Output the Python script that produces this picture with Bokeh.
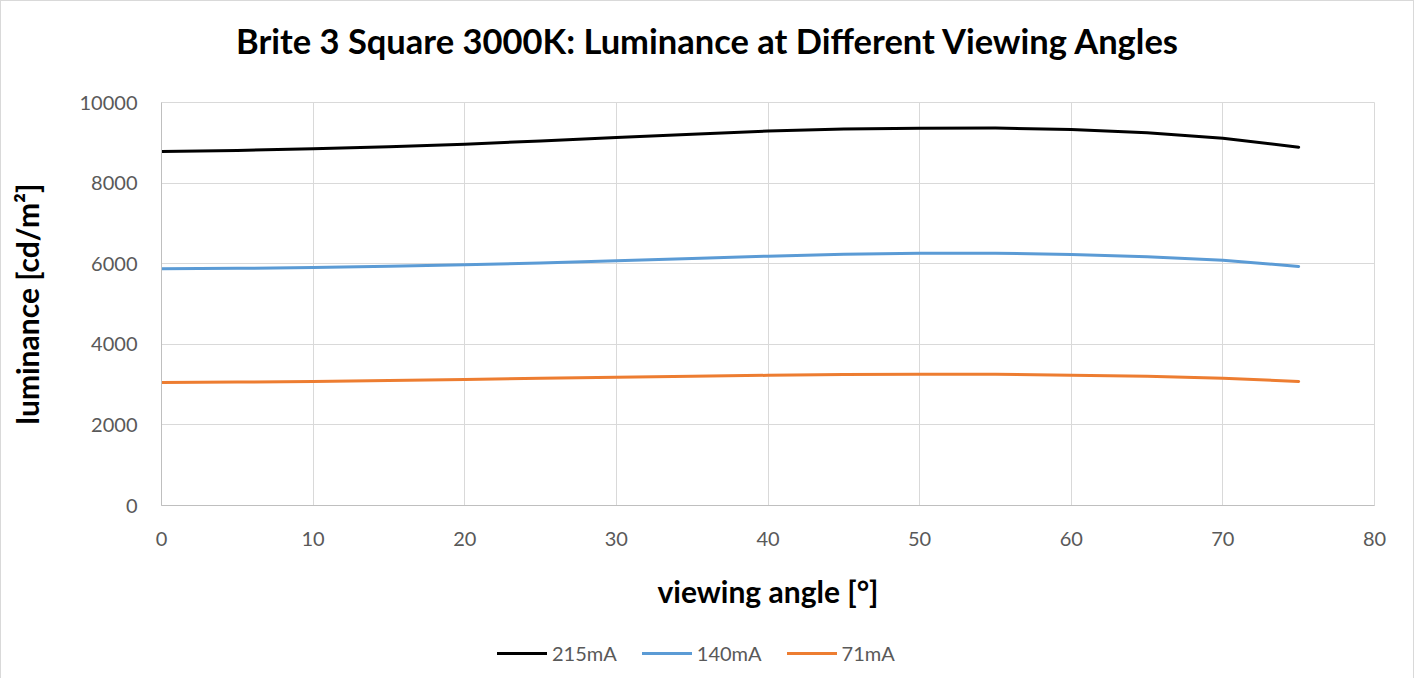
from bokeh.plotting import figure
from bokeh.layouts import column
from bokeh.models import FixedTicker, Legend, LegendItem, Range1d, Div
from bokeh.embed import file_html
from bokeh.resources import INLINE

angles = [0, 5, 10, 15, 20, 25, 30, 35, 40, 45, 50, 55, 60, 65, 70, 75]
lum_215 = [8784, 8810, 8850, 8900, 8966, 9045, 9132, 9210, 9290, 9340, 9363, 9365, 9330, 9248, 9115, 8892]
lum_140 = [5873, 5885, 5906, 5935, 5972, 6020, 6071, 6130, 6187, 6235, 6261, 6262, 6228, 6170, 6087, 5931]
lum_71 = [3052, 3062, 3077, 3100, 3127, 3155, 3184, 3210, 3230, 3248, 3258, 3256, 3234, 3205, 3160, 3077]
series_names = ["215mA", "140mA", "71mA"]
series_colors = ["#000000", "#5b9bd5", "#ed7d31"]
x_ticks = [0, 10, 20, 30, 40, 50, 60, 70, 80]
y_ticks = [0, 2000, 4000, 6000, 8000, 10000]
series_values = [lum_215, lum_140, lum_71]
title_text = "Brite 3 Square 3000K: Luminance at Different Viewing Angles"

FONT = "Lato"

title_div = Div(text=title_text, width=1412, height=80, margin=0,
                styles={"font-family": FONT, "font-weight": "bold", "font-size": "34.5px",
                        "line-height": "80px", "text-align": "center", "color": "#000000",
                        "white-space": "nowrap"})

p = figure(width=1412, height=545, output_backend="svg", toolbar_location=None,
           x_range=Range1d(0, 80), y_range=Range1d(0, 10000),
           min_border_left=160, min_border_right=39, min_border_top=21, min_border_bottom=121)

p.outline_line_color = "#d9d9d9"
p.xgrid.grid_line_color = "#d9d9d9"
p.ygrid.grid_line_color = "#d9d9d9"

for ax in (p.xaxis[0], p.yaxis[0]):
    ax.major_tick_line_color = None
    ax.minor_tick_line_color = None
    ax.axis_line_color = "#bfbfbf"
    ax.major_label_text_font = FONT
    ax.major_label_text_font_size = "20px"
    ax.major_label_text_color = "#595959"
    ax.axis_label_text_font = FONT
    ax.axis_label_text_font_style = "bold"
    ax.axis_label_text_font_size = "30px"
    ax.axis_label_text_color = "#000000"

p.xaxis.ticker = FixedTicker(ticks=x_ticks)
p.yaxis.ticker = FixedTicker(ticks=y_ticks)
p.xaxis.major_label_standoff = 20
p.yaxis.major_label_standoff = 18
p.xaxis.axis_label = "viewing angle [°]"
p.yaxis.axis_label = "luminance [cd/m²]"
p.xaxis.axis_label_standoff = 24
p.yaxis.axis_label_standoff = 32

for vals, col in zip(series_values, series_colors):
    p.line(angles, vals, line_color=col, line_width=3, line_cap="round", line_join="round")

# legend strip below the chart (same series, drawn out of view so only legend glyphs show)
q = figure(width=1412, height=52, output_backend="svg", toolbar_location=None,
           x_range=Range1d(0, 80), y_range=Range1d(-1, 0), min_border=0,
           x_axis_type=None, y_axis_type=None)
q.outline_line_color = None
q.xgrid.visible = False
q.ygrid.visible = False
items = []
for name, vals, col in zip(series_names, series_values, series_colors):
    r = q.line(angles, vals, line_color=col, line_width=3, line_cap="round")
    items.append(LegendItem(label=name, renderers=[r]))

legend = Legend(items=items, orientation="horizontal", location=(336, 13),
                glyph_width=50, glyph_height=20, label_standoff=5, spacing=25,
                padding=0, margin=0, border_line_color=None, background_fill_alpha=0,
                label_text_font=FONT, label_text_font_size="20px", label_text_color="#595959")
q.add_layout(legend, "center")

layout = column(title_div, p, q, spacing=0,
                styles={"border-top": "1px solid #d9d9d9", "border-left": "1px solid #d9d9d9",
                        "border-right": "1px solid #d9d9d9", "background-color": "#ffffff"})

open("out.html", "w").write(file_html(layout, INLINE))
